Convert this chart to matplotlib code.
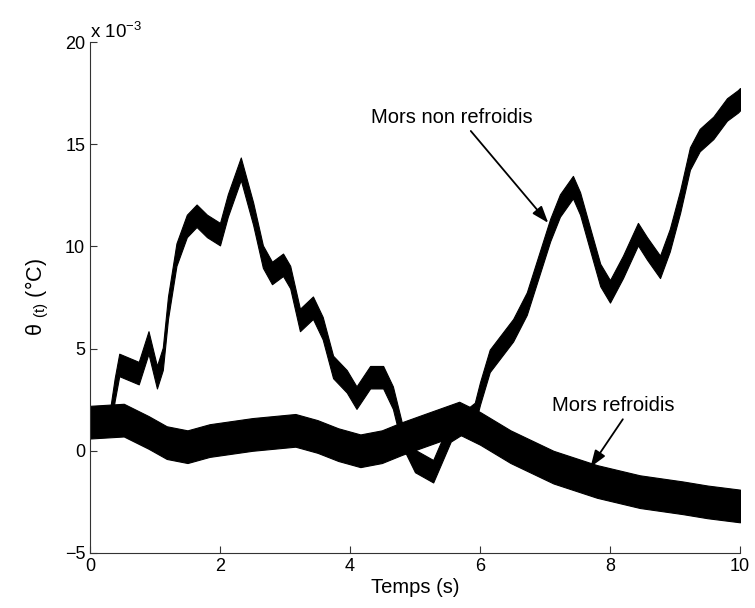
import numpy as np
import matplotlib
matplotlib.use('Agg')
import matplotlib.pyplot as plt

plt.rcParams['font.family'] = ['Liberation Sans', 'DejaVu Sans']

# Mors non refroidis : temps (s) / theta (x 1e-3 °C), centre of the noisy trace
t_non = [0, 0.3, 0.38, 0.45, 0.6, 0.75, 0.9, 1.03, 1.12, 1.2, 1.33, 1.49, 1.64,
         1.8, 2.0, 2.12, 2.32, 2.51, 2.66, 2.8, 2.97, 3.08, 3.23, 3.43, 3.58,
         3.74, 3.95, 4.1, 4.31, 4.51, 4.66, 4.8, 5.0, 5.28, 5.55, 5.8, 5.92,
         6.0, 6.15, 6.51, 6.72, 6.92, 7.08, 7.23, 7.43, 7.54, 7.69, 7.85, 8.0,
         8.2, 8.43, 8.57, 8.77, 8.92, 9.08, 9.23, 9.38, 9.59, 9.8, 9.97, 10]
theta_non = [1.3, 1.3, 3.0, 4.2, 4.0, 3.8, 5.3, 3.6, 4.5, 7.0, 9.6, 11.0, 11.5,
             11.0, 10.6, 12.0, 13.8, 11.6, 9.5, 8.7, 9.1, 8.5, 6.4, 7.0, 6.0,
             4.1, 3.4, 2.6, 3.6, 3.6, 2.6, 0.8, -0.5, -1.0, 1.0, 1.5, 1.8,
             2.8, 4.4, 5.9, 7.2, 9.2, 10.8, 12.0, 12.9, 12.1, 10.4, 8.6, 7.8,
             9.0, 10.6, 9.9, 9.0, 10.3, 12.2, 14.3, 15.2, 15.8, 16.7, 17.1, 17.2]
noise_non = 0.55

# Mors refroidis
t_ref = [0, 0.52, 0.9, 1.18, 1.5, 1.84, 2.5, 3.16, 3.5, 3.82, 4.16, 4.49, 4.8,
         5.15, 5.68, 6.0, 6.47, 7.13, 7.8, 8.46, 9.12, 9.5, 10]
theta_ref = [1.4, 1.5, 0.9, 0.4, 0.2, 0.5, 0.8, 1.0, 0.7, 0.3, 0.0, 0.2, 0.6,
             1.0, 1.6, 1.1, 0.2, -0.8, -1.5, -2.0, -2.3, -2.5, -2.7]
noise_ref = 0.8

fig = plt.figure(figsize=(7.55, 6.08), dpi=100)
ax = fig.add_axes([0.1192, 0.0905, 0.8609, 0.8404])

for t, th, h in [(t_ref, theta_ref, noise_ref), (t_non, theta_non, noise_non)]:
    th = np.array(th)
    ax.fill_between(t, th - h, th + h, color='k', lw=0.8, edgecolor='k')

ax.set_xlim(0, 10)
ax.set_ylim(-5, 20)
ax.set_xticks([0, 2, 4, 6, 8, 10])
ax.set_yticks([-5, 0, 5, 10, 15, 20])
ax.tick_params(direction='in', length=5, labelsize=13, color='#333333')
ax.spines['top'].set_visible(False)
ax.spines['right'].set_visible(False)
for s in ['left', 'bottom']:
    ax.spines[s].set_color('#333333')

ax.set_xlabel('Temps (s)', fontsize=14.5, labelpad=2)
ax.set_ylabel(r'θ $\mathregular{_{(t)}}$ (°C)', fontsize=15.5, labelpad=10)
ax.text(0.0, 1.0, r'x 10$\mathregular{^{-3}}$', transform=ax.transAxes,
        fontsize=13.5, ha='left', va='bottom')

arrow = dict(arrowstyle='-|>,head_length=0.7,head_width=0.25', color='k',
             lw=1.3, shrinkA=1, shrinkB=0, relpos=(0.6, 0.0))
ax.annotate('Mors non refroidis', xy=(7.05, 11.15), xytext=(5.56, 16.3),
            fontsize=14.5, ha='center', va='center', arrowprops=arrow)
ax.annotate('Mors refroidis', xy=(7.7, -0.8), xytext=(8.05, 2.2),
            fontsize=14.5, ha='center', va='center', arrowprops=arrow)

fig.savefig('out.png', dpi=100)
